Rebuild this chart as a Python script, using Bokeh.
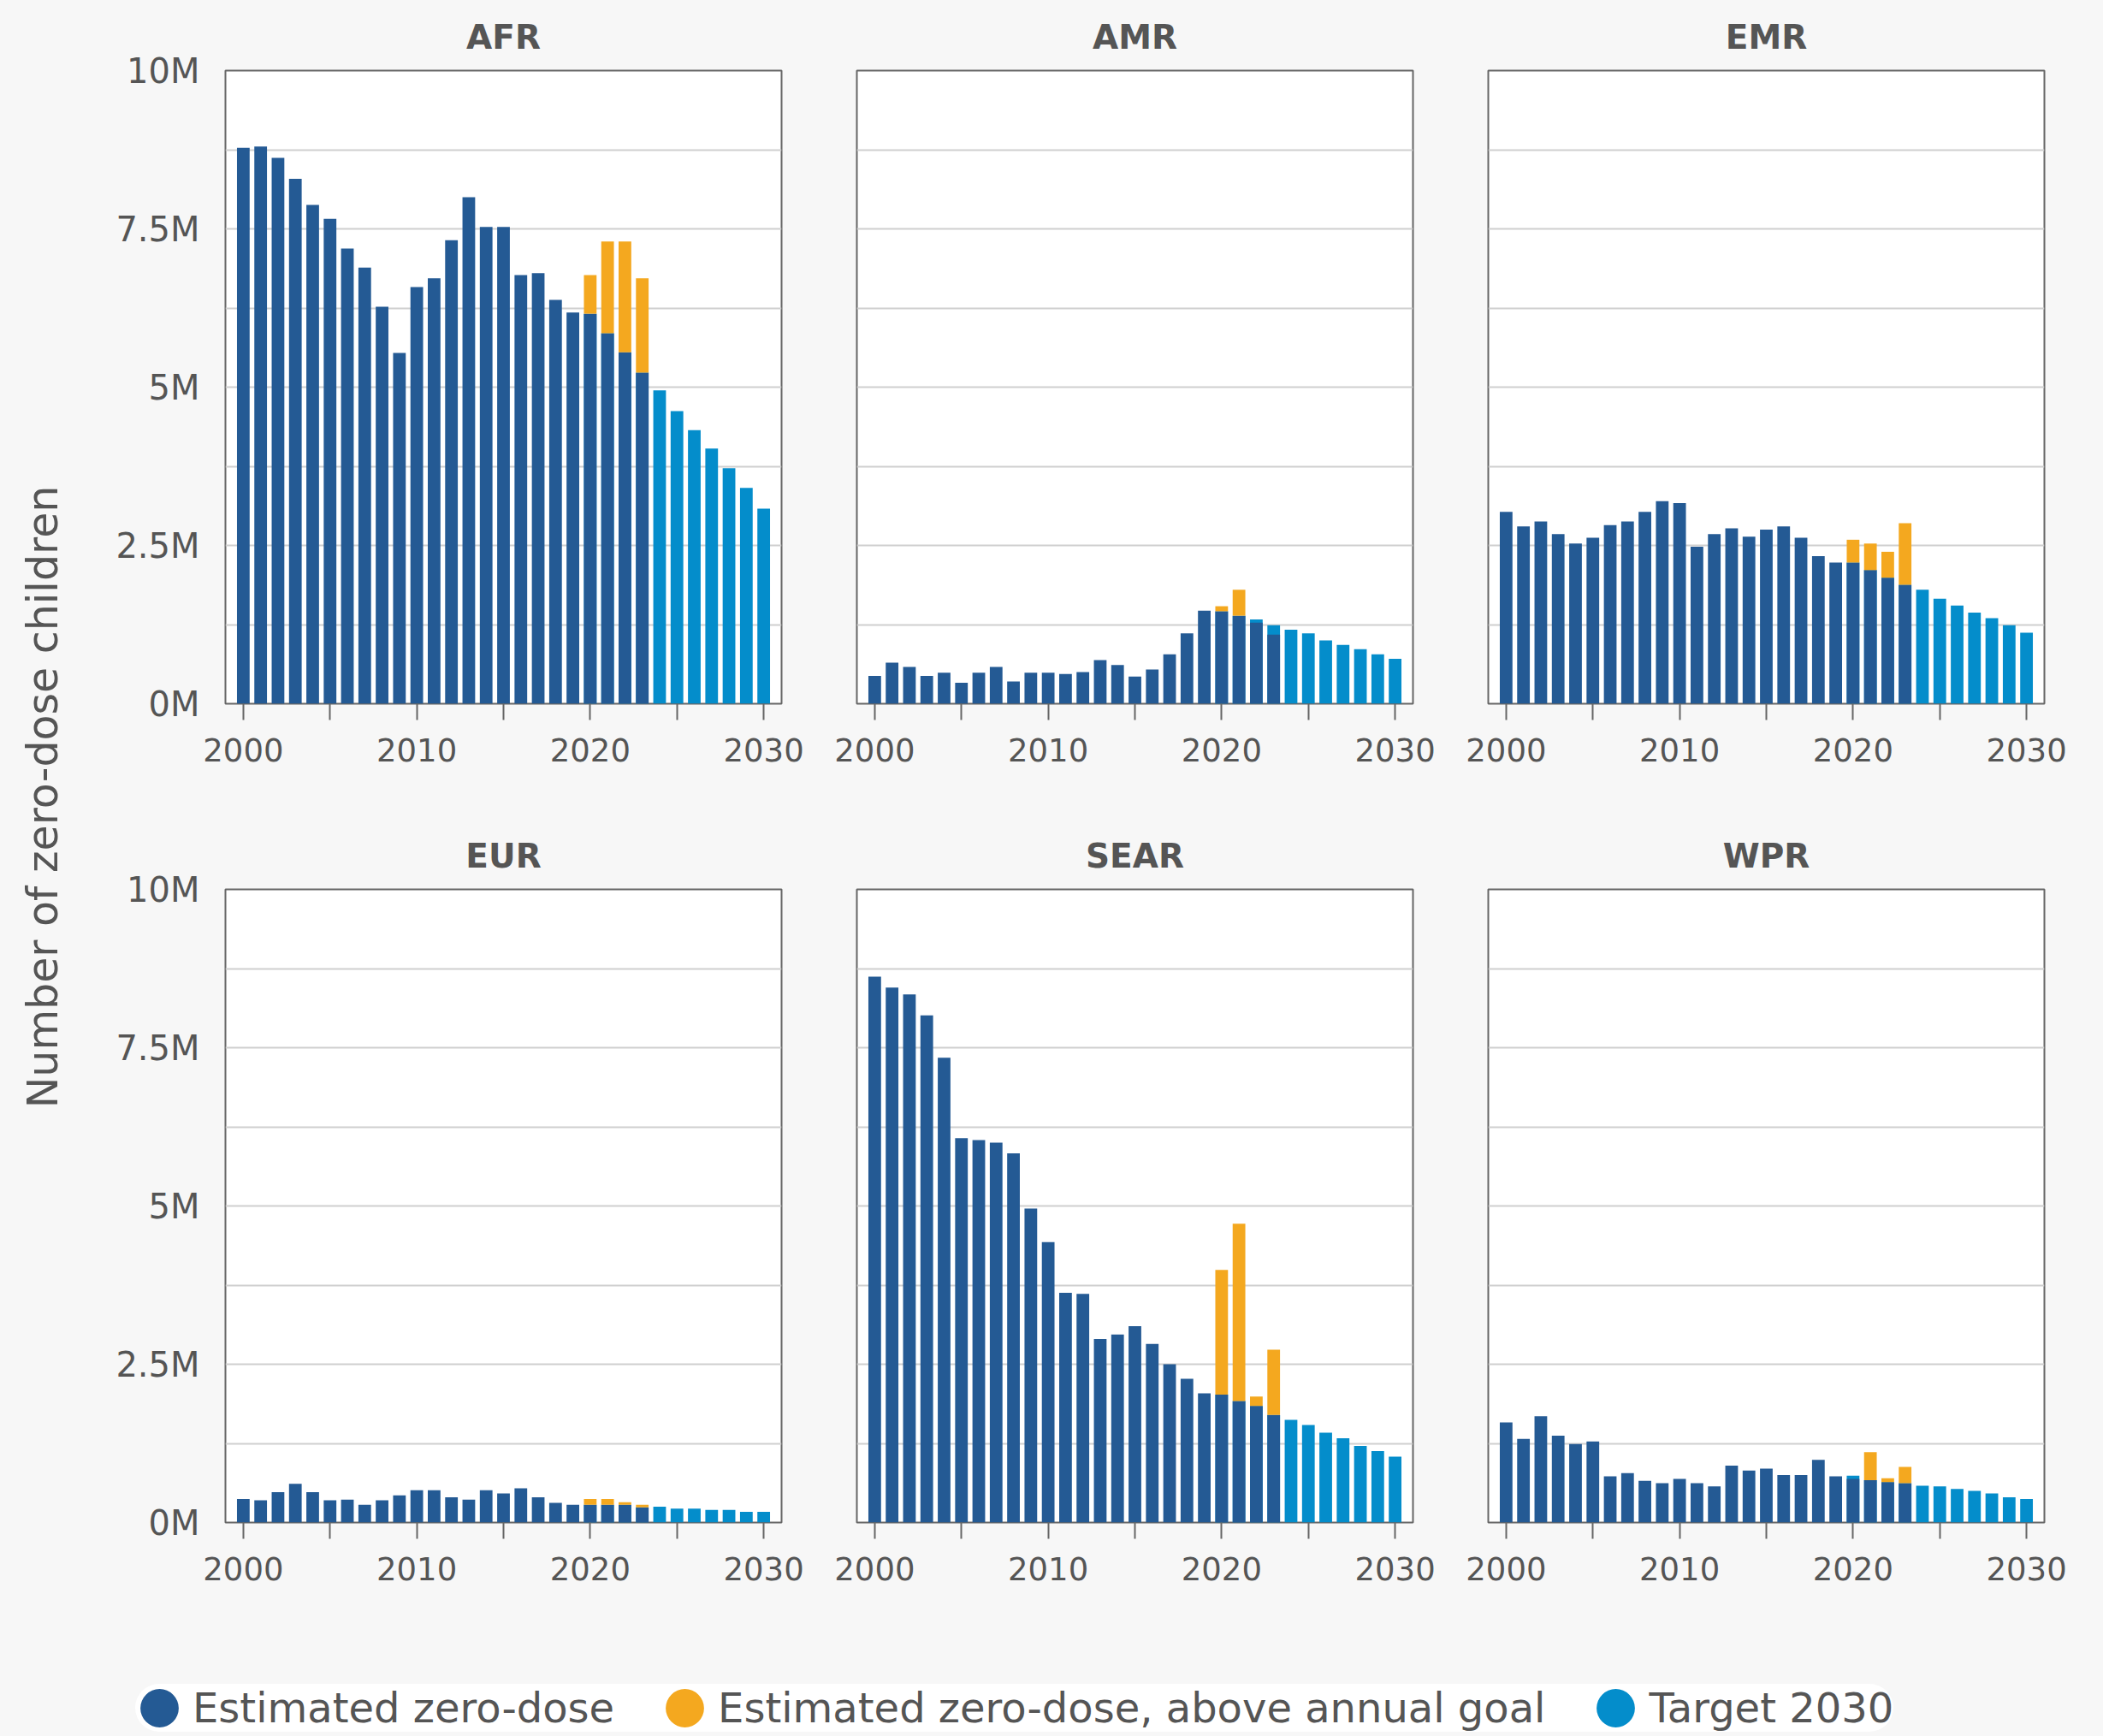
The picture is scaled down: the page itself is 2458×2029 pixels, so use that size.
import math
from bokeh.plotting import figure
from bokeh.models import (Range1d, FixedTicker, ColumnDataSource, Label, Legend,
                          LegendItem, Spacer)
from bokeh.layouts import row, column
from bokeh.embed import file_html
from bokeh.resources import INLINE

# ---------------- data (millions of children) ----------------
years_hist = list(range(2000, 2024))   # estimated zero-dose
years_goal = list(range(2020, 2031))   # annual goal 2020-2023, target trajectory 2024-2030

regions = ["AFR", "AMR", "EMR", "EUR", "SEAR", "WPR"]

afr_est = [8.78, 8.80, 8.62, 8.29, 7.88, 7.66, 7.19, 6.89, 6.27, 5.54, 6.58, 6.72,
           7.32, 8.00, 7.53, 7.53, 6.77, 6.80, 6.38, 6.18, 6.77, 7.30, 7.30, 6.72]
afr_goal = [6.16, 5.85, 5.55, 5.23, 4.95, 4.62, 4.32, 4.03, 3.72, 3.41, 3.08]

amr_est = [0.44, 0.65, 0.58, 0.44, 0.49, 0.33, 0.49, 0.58, 0.35, 0.49, 0.49, 0.47,
           0.50, 0.69, 0.61, 0.43, 0.54, 0.78, 1.11, 1.47, 1.54, 1.80, 1.28, 1.09]
amr_goal = [1.46, 1.39, 1.33, 1.24, 1.17, 1.11, 1.00, 0.93, 0.86, 0.78, 0.71]

emr_est = [3.03, 2.80, 2.88, 2.68, 2.53, 2.62, 2.82, 2.88, 3.03, 3.20, 3.17, 2.48,
           2.68, 2.77, 2.64, 2.75, 2.80, 2.62, 2.33, 2.23, 2.59, 2.53, 2.40, 2.85]
emr_goal = [2.23, 2.11, 1.99, 1.88, 1.80, 1.66, 1.55, 1.44, 1.35, 1.24, 1.12]

eur_est = [0.37, 0.35, 0.48, 0.61, 0.48, 0.35, 0.36, 0.28, 0.35, 0.43, 0.51, 0.51,
           0.40, 0.36, 0.51, 0.46, 0.54, 0.40, 0.31, 0.28, 0.37, 0.37, 0.32, 0.28]
eur_goal = [0.28, 0.28, 0.28, 0.24, 0.25, 0.22, 0.22, 0.20, 0.20, 0.17, 0.17]

sear_est = [8.62, 8.45, 8.34, 8.01, 7.34, 6.07, 6.04, 6.00, 5.83, 4.96, 4.43, 3.63,
            3.61, 2.90, 2.97, 3.10, 2.82, 2.50, 2.27, 2.04, 3.99, 4.72, 1.99, 2.73]
sear_goal = [2.02, 1.92, 1.84, 1.70, 1.62, 1.54, 1.42, 1.33, 1.21, 1.13, 1.04]

wpr_est = [1.58, 1.32, 1.68, 1.37, 1.24, 1.28, 0.73, 0.78, 0.66, 0.62, 0.69, 0.62,
           0.57, 0.90, 0.82, 0.85, 0.75, 0.75, 0.99, 0.73, 0.69, 1.11, 0.70, 0.88]
wpr_goal = [0.74, 0.67, 0.64, 0.62, 0.58, 0.57, 0.53, 0.50, 0.46, 0.40, 0.37]

estimates = [afr_est, amr_est, emr_est, eur_est, sear_est, wpr_est]
goals = [afr_goal, amr_goal, emr_goal, eur_goal, sear_goal, wpr_goal]

y_ticks = [0, 2.5, 5, 7.5, 10]
y_tick_labels = ["0M", "2.5M", "5M", "7.5M", "10M"]
grid_ticks = [0, 1.25, 2.5, 3.75, 5, 6.25, 7.5, 8.75, 10]
x_ticks = [2000, 2005, 2010, 2015, 2020, 2025, 2030]
x_tick_labels = ["2000", "", "2010", "", "2020", "", "2030"]

legend_labels = ["Estimated zero-dose", "Estimated zero-dose, above annual goal", "Target 2030"]
y_title = "Number of zero-dose children"

# ---------------- style ----------------
FONT = "DejaVu Sans"
TEXT = "#555555"
BG = "#f7f7f7"
C_EST = "#245a94"
C_OVER = "#f4a81f"
C_TGT = "#048dcb"
BAR_W = 0.73


def strip(width, height, **kw):
    f = figure(width=width, height=height, x_range=Range1d(0, 1), y_range=Range1d(0, 1),
               toolbar_location=None, output_backend="svg", min_border=0,
               x_axis_location=None, y_axis_location=None, outline_line_color=None,
               background_fill_color=BG, border_fill_color=BG, **kw)
    f.xgrid.visible = False
    f.ygrid.visible = False
    return f


def panel(name, est, goal, col):
    p = figure(frame_width=650, frame_height=740,
               x_range=Range1d(1998.97, 2031.03), y_range=Range1d(0, 10),
               toolbar_location=None, output_backend="svg",
               min_border_left=163 if col == 0 else 44,
               min_border_right=44 if col < 2 else 50,
               min_border_top=82, min_border_bottom=135,
               background_fill_color="white", border_fill_color=BG,
               outline_line_color="#666666", outline_line_width=2,
               y_axis_location="left" if col == 0 else None,
               title=name)
    p.title.align = "center"
    p.title.text_font = FONT
    p.title.text_font_size = "39px"
    p.title.text_font_style = "bold"
    p.title.text_color = TEXT
    p.title.standoff = 34

    goal_by_year = dict(zip(years_goal, goal))
    est_top = [min(e, goal_by_year[y]) if y in goal_by_year else e
               for y, e in zip(years_hist, est)]
    ox, ob, ot = [], [], []
    for y, e in zip(years_hist, est):
        if y in goal_by_year and e > goal_by_year[y]:
            ox.append(y)
            ob.append(goal_by_year[y])
            ot.append(e)

    p.vbar(x="x", top="top", width=BAR_W,
           source=ColumnDataSource(dict(x=years_goal, top=goal)),
           fill_color=C_TGT, line_color=None)
    p.vbar(x="x", top="top", width=BAR_W,
           source=ColumnDataSource(dict(x=years_hist, top=est_top)),
           fill_color=C_EST, line_color=None)
    p.vbar(x="x", bottom="bottom", top="top", width=BAR_W,
           source=ColumnDataSource(dict(x=ox, bottom=ob, top=ot)),
           fill_color=C_OVER, line_color=None)

    xa = p.xaxis[0]
    xa.ticker = FixedTicker(ticks=x_ticks)
    xa.major_label_overrides = dict(zip(x_ticks, x_tick_labels))
    xa.major_tick_out = 19
    xa.major_tick_in = 0
    xa.major_tick_line_color = "#666666"
    xa.major_tick_line_width = 2
    xa.minor_tick_line_color = None
    xa.axis_line_color = None
    xa.major_label_text_font = FONT
    xa.major_label_text_font_size = "37px"
    xa.major_label_text_color = TEXT
    xa.major_label_standoff = 21

    if col == 0:
        ya = p.yaxis[0]
        ya.ticker = FixedTicker(ticks=y_ticks)
        ya.major_label_overrides = dict(zip(y_ticks, y_tick_labels))
        ya.major_tick_out = 0
        ya.major_tick_in = 0
        ya.major_tick_line_color = None
        ya.minor_tick_line_color = None
        ya.axis_line_color = None
        ya.major_label_text_font = FONT
        ya.major_label_text_font_size = "40px"
        ya.major_label_text_color = TEXT
        ya.major_label_standoff = 30

    p.xgrid.visible = False
    p.ygrid.ticker = FixedTicker(ticks=grid_ticks)
    p.ygrid.grid_line_color = "#cfcfcf"
    p.ygrid.grid_line_width = 2
    return p


panels = [panel(n, e, g, i % 3) for i, (n, e, g) in enumerate(zip(regions, estimates, goals))]

# y-axis title strip
yl = strip(100, 1914)
yl.add_layout(Label(x=50, y=983, x_units="screen", y_units="screen", text=y_title,
                    angle=math.pi / 2, text_align="center", text_baseline="middle",
                    text_font=FONT, text_font_size="49px", text_color=TEXT))

# legend strip
leg = strip(2290, 115, min_border_top=54)
items = []
for lab, c in zip(legend_labels, [C_EST, C_OVER, C_TGT]):
    r = leg.ellipse(x=[-5], y=[-5], width=45, height=45, width_units="screen",
                    height_units="screen", fill_color=c, line_color=None)
    items.append(LegendItem(label=lab, renderers=[r]))
legend = Legend(items=items, orientation="horizontal", location="top_left", margin=0,
                padding=20, spacing=54, glyph_width=56, glyph_height=56, label_standoff=11,
                label_height=56, label_text_font=FONT, label_text_font_size="48px",
                label_text_color=TEXT, background_fill_color="white",
                background_fill_alpha=1.0, border_line_color=None)
if "border_radius" in Legend.properties():
    legend.border_radius = 43
leg.add_layout(legend, "center")

layout = column(
    row(yl, column(row(*panels[:3]), row(*panels[3:]))),
    row(Spacer(width=158, height=115), leg),
)

html = file_html(layout, INLINE, title="Zero-dose children by region")
html = html.replace("</head>", "<style>html,body{background:#f7f7f7;}</style></head>", 1)
open("out.html", "w").write(html)
